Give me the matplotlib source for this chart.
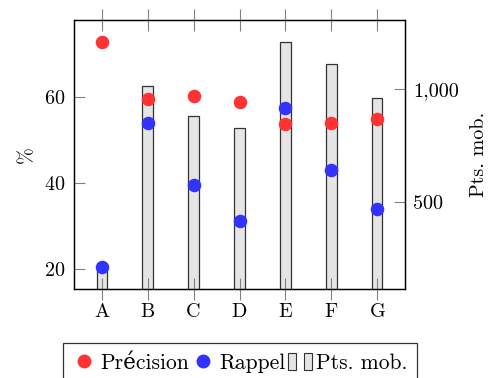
import matplotlib
matplotlib.use("Agg")
import matplotlib.pyplot as plt
from matplotlib.patches import Rectangle
from matplotlib.legend_handler import HandlerTuple
from matplotlib.ticker import FuncFormatter

plt.rcParams['font.family'] = ['cmr10', 'DejaVu Serif']
plt.rcParams['axes.formatter.use_mathtext'] = True
plt.rcParams['font.size'] = 14.5

# Data
categories = ['A', 'B', 'C', 'D', 'E', 'F', 'G']
precision = [72.6, 59.5, 60.2, 58.8, 53.7, 53.8, 54.8]
rappel = [20.5, 53.9, 39.5, 31.2, 57.5, 43.0, 33.9]
pts_mob = [210, 1012, 880, 827, 1205, 1109, 957]

red = '#FF3333'
blue = '#3333FF'
bar_fill = '#E5E5E5'
tick_gray = '#808080'

fig = plt.figure(figsize=(4.98, 3.78), dpi=100)
ax = fig.add_axes([74 / 498, 1 - 289 / 378, (405 - 74) / 498, (289 - 20) / 378])
ax2 = ax.twinx()

x = list(range(len(categories)))

# bars on the right axis
ax2.bar(x, pts_mob, width=0.22, color=bar_fill, edgecolor='#333333', linewidth=0.9, zorder=2)
ax2.set_ylim(114, 1304)
ax2.set_yticks([500, 1000])
ax2.yaxis.set_major_formatter(FuncFormatter(lambda v, p: f"{int(v):,}"))
ax2.set_ylabel('Pts. mob.', labelpad=8)

# scatter on the left axis, drawn above the bars
ax.set_zorder(ax2.get_zorder() + 1)
ax.patch.set_visible(False)
ax.scatter(x, precision, s=95, color=red, linewidths=0, zorder=3)
ax.scatter(x, rappel, s=95, color=blue, linewidths=0, zorder=3)
ax.set_xlim(-0.6, 6.6)
ax.set_ylim(15.4, 77.8)
ax.set_yticks([20, 40, 60])
ax.set_xticks(x)
ax.set_xticklabels(categories)
ax.set_ylabel('%', labelpad=6)

ax.tick_params(axis='x', top=True, direction='inout', length=16, color=tick_gray, width=0.8, pad=2)
ax.tick_params(axis='y', direction='in', length=8, color=tick_gray, width=0.8, pad=6)
ax2.tick_params(axis='y', direction='in', length=8, color=tick_gray, width=0.8, pad=6)
for a in (ax, ax2):
    for s in a.spines.values():
        s.set_linewidth(0.9)

h_prec = plt.Line2D([], [], marker='o', linestyle='none', color=red, markersize=10, markeredgewidth=0)
h_rap = plt.Line2D([], [], marker='o', linestyle='none', color=blue, markersize=10, markeredgewidth=0)
bar_a = Rectangle((0, 0), 1, 1, facecolor=bar_fill, edgecolor='#333333', linewidth=0.8)
bar_b = Rectangle((0, 0), 1, 1, facecolor=bar_fill, edgecolor='#333333', linewidth=0.8)

leg = fig.legend([h_prec, h_rap, (bar_a, bar_b)], ['Précision', 'Rappel', 'Pts. mob.'],
                 handler_map={tuple: HandlerTuple(ndivide=2, pad=0.35)},
                 loc='upper center', bbox_to_anchor=(240 / 498, 1 - 343 / 378),
                 ncol=3, frameon=True, fancybox=False, edgecolor='black',
                 handlelength=1.1, handleheight=0.85, handletextpad=0.2, columnspacing=0.1,
                 borderpad=0.45, borderaxespad=0, fontsize=15.5)
leg.get_frame().set_linewidth(0.9)

fig.savefig('out.png', dpi=100)
